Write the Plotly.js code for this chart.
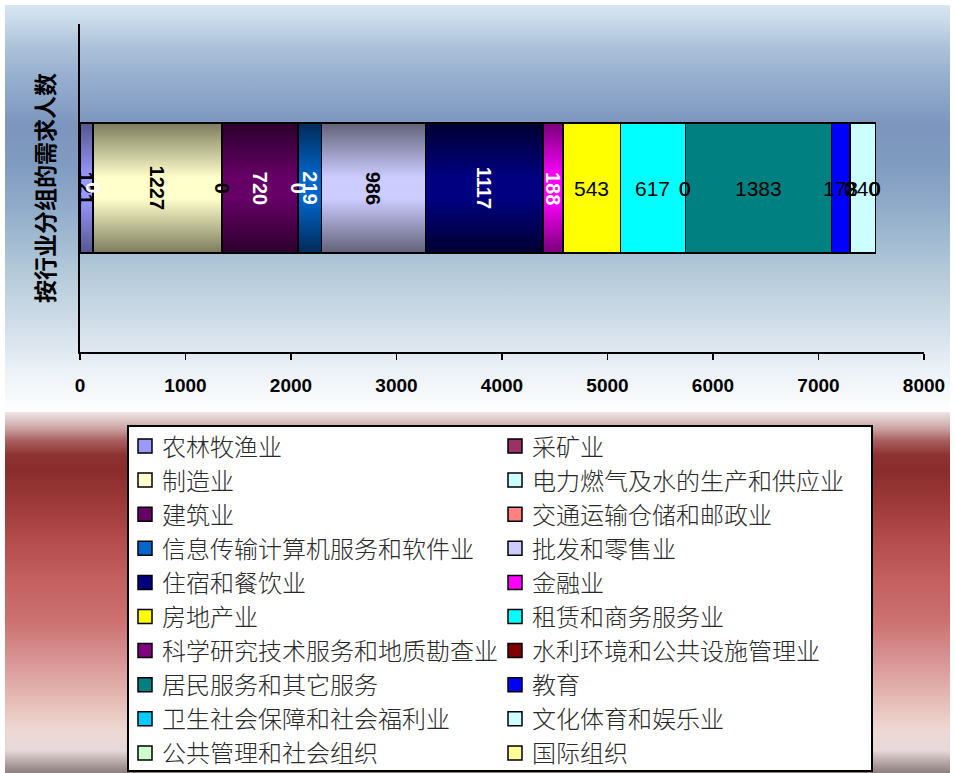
<!DOCTYPE html>
<html>
<head>
<meta charset="utf-8">
<script src="https://cdn.plot.ly/plotly-3.0.1.min.js"></script>
<style>
  html, body { margin: 0; padding: 0; background: #ffffff; }
  #wrap { position: relative; width: 955px; height: 773px; overflow: hidden; background: #ffffff; }
  #bgTop { position: absolute; left: 5px; top: 5px; width: 945px; height: 407px;
    background: linear-gradient(to bottom,
      #d9e6f2 0px, #c4d7e8 20px, #aec4da 40px, #98b0cf 70px, #8aa3c7 95px, #7c95bd 120px,
      #809bc0 160px, #90abc9 200px, #a6bfd3 245px, #b3c9d8 265px, #c6d6e3 300px,
      #dce6ef 340px, #eef3f8 370px, #fbfcfd 400px, #ffffff 407px); }
  #bgBot { position: absolute; left: 5px; top: 412px; width: 945px; height: 361px;
    background: linear-gradient(to bottom,
      #efe6e6 0px, #ddc6c6 8px, #c79c9c 18px, #aa6262 28px, #8e3232 43px, #8a2c2c 58px,
      #9c3838 88px, #b44c4c 128px, #c46060 168px, #cc7070 208px, #d89494 248px,
      #e6bcb6 288px, #eed8d4 318px, #e6dada 338px, #b8a8a8 350px, #8c7e7e 361px); }
  #chart { position: absolute; left: 0; top: 0; width: 955px; height: 773px; }
</style>
</head>
<body>
<div id="wrap">
  <div id="bgTop"></div>
  <div id="bgBot"></div>
  <div id="chart"></div>
</div>
<script>
// ---- data ----
const categories = ['农林牧渔业', '采矿业', '制造业', '电力燃气及水的生产和供应业', '建筑业',
  '交通运输仓储和邮政业', '信息传输计算机服务和软件业', '批发和零售业', '住宿和餐饮业', '金融业',
  '房地产业', '租赁和商务服务业', '科学研究技术服务和地质勘查业', '水利环境和公共设施管理业',
  '居民服务和其它服务', '教育', '卫生社会保障和社会福利业', '文化体育和娱乐业', '公共管理和社会组织', '国际组织'];
const values = [121, 0, 1227, 0, 720, 0, 219, 986, 1117, 188, 543, 617, 0, 0, 1383, 178, 0, 240, 0, 0];
const groupLabel = ['按行业分组的需求人数'];

// ---- styles ----
const colors = ['#9999ff', '#993366', '#ffffcc', '#ccffff', '#660066', '#ff8080', '#0066cc', '#ccccff',
  '#000080', '#ff00ff', '#ffff00', '#00ffff', '#800080', '#800000', '#008080', '#0000ff',
  '#00ccff', '#ccffff', '#ccffcc', '#ffff99'];
// bar shading: [dark edge, light centre] for the shaded fills
const shading = {0: ['#56568f', '#9999ff'], 2: ['#7c7c5e', '#ffffcc'], 4: ['#2c002c', '#660066'],
  6: ['#002a58', '#0066cc'], 7: ['#62627a', '#ccccff'], 8: ['#000032', '#000080'], 9: ['#7a007a', '#ff00ff']};
const labelColors = ['#000', '#fff', '#000', '#000', '#fff', '#fff', '#fff', '#000', '#fff', '#fff',
  '#000', '#000', '#000', '#000', '#000', '#000', '#000', '#000', '#000', '#000'];
const labelRotated = [1, 1, 1, 1, 1, 1, 1, 1, 1, 1, 0, 0, 0, 0, 0, 0, 0, 0, 0, 0];

const L = 80, R = 31, T = 24, B = 421, W = 955, H = 773;
const pw = W - L - R, ph = H - T - B;
const px = X => (X - L) / pw;
const py = Y => (H - B - Y) / ph;

const traces = categories.map((name, i) => ({
  type: 'bar', orientation: 'h', name: name,
  x: [values[i]], y: [groupLabel[0]],
  marker: {color: colors[i], line: {color: '#000000', width: 1.5}},
  hoverinfo: 'none', showlegend: false
}));

const annotations = [];
let cum = 0;
values.forEach((v, i) => {
  const rot = labelRotated[i] === 1;
  annotations.push({
    x: cum + v / 2, y: groupLabel[0], xref: 'x', yref: 'y',
    text: String(v), showarrow: false, textangle: rot ? 90 : 0,
    xanchor: 'center', yanchor: 'middle',
    font: {family: 'Liberation Sans, Arial, sans-serif', size: rot ? 20 : 21,
      color: labelColors[i], weight: rot ? 700 : 400}
  });
  cum += v;
});

// legend built as a boxed two-column list
const shapes = [{
  type: 'rect', xref: 'paper', yref: 'paper', x0: px(128), x1: px(872), y0: py(426), y1: py(771),
  fillcolor: '#ffffff', line: {color: '#000000', width: 2}, layer: 'above'
}];
categories.forEach((name, i) => {
  const row = Math.floor(i / 2), col = i % 2;
  const cy = 446 + 34.1 * row;
  const sx = col ? 508 : 138;
  shapes.push({
    type: 'rect', xref: 'paper', yref: 'paper', x0: px(sx), x1: px(sx + 14), y0: py(cy - 7), y1: py(cy + 7),
    fillcolor: colors[i], line: {color: '#000000', width: 1.5}, layer: 'above'
  });
  annotations.push({
    x: px(col ? 530 : 160), y: py(cy - 1), xref: 'paper', yref: 'paper',
    text: name, showarrow: false, xanchor: 'left', yanchor: 'middle',
    font: {family: 'Noto Sans CJK SC, sans-serif', size: 24, color: '#2a2a2a', weight: 300}
  });
});

const layout = {
  width: W, height: H,
  margin: {l: L, r: R, t: T, b: B, pad: 0},
  paper_bgcolor: 'rgba(0,0,0,0)', plot_bgcolor: 'rgba(0,0,0,0)',
  barmode: 'stack', bargap: 0.604,
  showlegend: false,
  xaxis: {
    range: [0, 8000], dtick: 1000, tick0: 0, fixedrange: true,
    showgrid: false, zeroline: false,
    showline: true, linecolor: '#000000', linewidth: 2,
    ticks: 'outside', ticklen: 6, tickwidth: 1.5, tickcolor: '#000000',
    ticklabelstandoff: 9,
    tickfont: {family: 'Liberation Sans, Arial, sans-serif', size: 19, color: '#000000', weight: 700}
  },
  yaxis: {
    type: 'category', fixedrange: true,
    showgrid: false, zeroline: false, showticklabels: false, ticks: '',
    showline: true, linecolor: '#000000', linewidth: 2,
    title: {text: groupLabel[0], standoff: 17,
      font: {family: 'Noto Sans CJK SC, sans-serif', size: 23, color: '#000000', weight: 700}}
  },
  shapes: shapes,
  annotations: annotations
};

const gd = document.getElementById('chart');
Plotly.newPlot(gd, traces, layout, {staticPlot: true, displayModeBar: false}).then(() => {
  const svg = gd.querySelector('svg.main-svg');
  let defs = svg.querySelector('defs');
  const NS = 'http://www.w3.org/2000/svg';
  Object.keys(shading).forEach(k => {
    const [dark, light] = shading[k];
    const g = document.createElementNS(NS, 'linearGradient');
    g.setAttribute('id', 'barShade' + k);
    g.setAttribute('x1', '0'); g.setAttribute('y1', '0');
    g.setAttribute('x2', '0'); g.setAttribute('y2', '1');
    [[0, dark], [0.42, light], [0.58, light], [1, dark]].forEach(([o, c]) => {
      const s = document.createElementNS(NS, 'stop');
      s.setAttribute('offset', o); s.setAttribute('stop-color', c);
      g.appendChild(s);
    });
    defs.appendChild(g);
  });
  gd.querySelectorAll('.barlayer .trace').forEach(tg => {
    const d = tg.__data__;
    const idx = d && d[0] && d[0].trace ? d[0].trace.index : null;
    if (idx !== null && shading[idx]) {
      tg.querySelectorAll('path').forEach(p => { p.style.fill = 'url(#barShade' + idx + ')'; });
    }
  });
});
</script>
</body>
</html>
